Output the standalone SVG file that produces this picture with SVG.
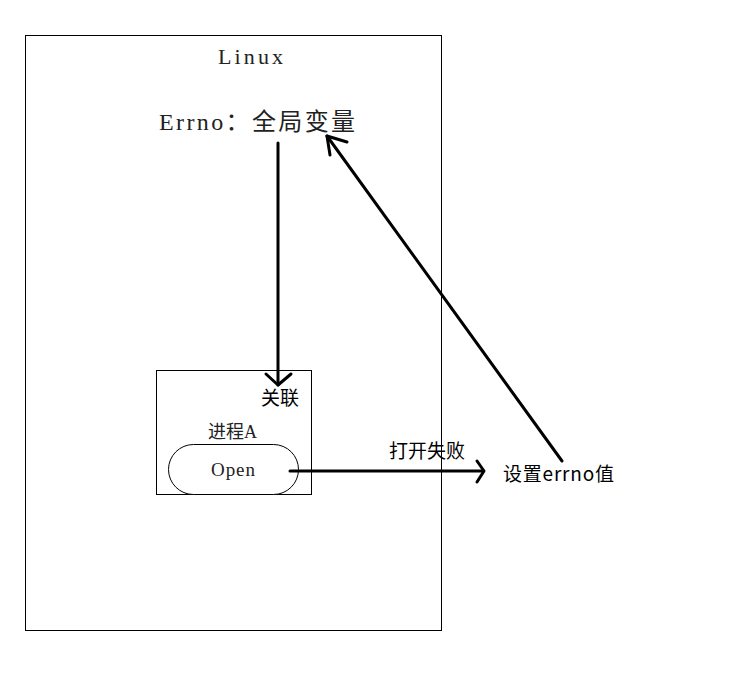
<svg xmlns="http://www.w3.org/2000/svg" width="730" height="698" viewBox="0 0 730 698">
<style>
.box{fill:#fff;stroke:#000;stroke-width:1}
.serif{font-family:"Liberation Serif","Noto Sans CJK SC",serif;fill:#222}
.sans{font-family:"Noto Sans CJK SC","Liberation Sans",sans-serif;fill:#000}
.ln{fill:none;stroke:#000;stroke-width:3;stroke-linecap:round;stroke-linejoin:round}
</style>
<rect width="730" height="698" fill="#fff"/>
<g id="linux">
<rect class="box" x="25.5" y="35.5" width="416" height="595"/>
<text class="serif" x="218" y="64" font-size="22" textLength="65">Linux</text>
</g>
<g id="errno">
<text class="serif" x="159" y="130" font-size="24" textLength="196">Errno：全局变量</text>
</g>
<g id="process">
<rect class="box" x="156.5" y="370.5" width="155" height="124"/>
<text class="sans" x="261" y="405" font-size="19">关联</text>
<text class="serif" x="208" y="438" font-size="18" textLength="49">进程A</text>
</g>
<g id="open">
<rect class="box" x="168.5" y="444.5" width="130" height="50" rx="25"/>
<text class="serif" x="211" y="476" font-size="19" textLength="44">Open</text>
</g>
<g id="seterrno">
<text class="sans" x="503" y="481" font-size="19" textLength="111">设置errno值</text>
</g>
<g id="connectors">
<line class="ln" x1="278" y1="143" x2="278" y2="385"/>
<polyline class="ln" points="266,374 278,385 291,374"/>
<line class="ln" x1="290" y1="471" x2="483" y2="471"/>
<polyline class="ln" points="477,461 484,471 477,482"/>
<text class="sans" x="389" y="458" font-size="19">打开失败</text>
<line class="ln" x1="562" y1="461" x2="327" y2="136"/>
<polyline class="ln" points="330,155 327,136 347,142"/>
</g>
</svg>
